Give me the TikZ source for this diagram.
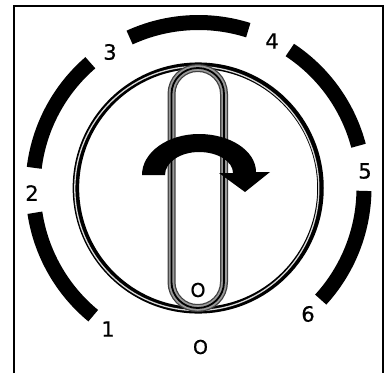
\documentclass[tikz,border=0pt]{standalone}
\usepackage{fontspec}
\setmainfont[FakeBold=0.7]{DejaVu Sans}
\tikzset{
  x=1pt,y=1pt,
  band/.style={line width=15pt},
  digit/.style={font=\fontsize{21}{21}\selectfont\bfseries,inner sep=0pt,text=black},
  letter/.style={font=\fontsize{19}{19}\selectfont\bfseries,inner sep=0pt,text=black}
}
\setmainfont[BoldFont={DejaVu Sans},BoldFeatures={FakeBold=0.7}]{DejaVu Sans}
\begin{document}
\begin{tikzpicture}[yscale=-1]
\useasboundingbox (0,0) rectangle (389,373);
\draw[line width=2pt] (14,373) -- (14,6) -- (383,6) -- (383,373);
\foreach \a/\b in {188.6/230.5,173/130.8,114.6/72.5,56.5/14.8,-1/-42.4}{
  \draw[band,yscale=-1,shift={(198.5,-188)}] (\a:165.5) arc[start angle=\a,end angle=\b,radius=165.5];
}
\draw[draw=black,line width=6.5pt] (198.2,188) circle[radius=122.3];
\draw[draw=black!15,line width=1.3pt] (196.8,188.5) circle[radius=122];
\draw[draw=black!75,line width=8pt,rounded corners=26pt] (171.5,68) rectangle (224,308);
\draw[draw=black!40,line width=5.5pt,rounded corners=26pt] (171.5,68) rectangle (224,308);
\draw[draw=black,line width=1.8pt,rounded corners=26pt] (171.5,68) rectangle (224,308);
\fill (142,175) arc[start angle=180,end angle=270,x radius=57,y radius=41]
  arc[start angle=270,end angle=360,x radius=57,y radius=38] -- (270,172) -- (245,192) -- (219,173) -- (233,173)
  arc[start angle=0,end angle=-90,x radius=34,y radius=21]
  arc[start angle=-90,end angle=-180,x radius=34,y radius=23] -- cycle;
\node[digit] (n1) at (108,329) {1};
\node[digit] (n2) at (32,193) {2};
\node[digit] (n3) at (110,52) {3};
\node[digit] (n4) at (272,41) {4};
\node[digit] (n5) at (365,171) {5};
\node[digit] (n6) at (308,314) {6};
\node[letter] (n0) at (200.5,347) {O};
\node[letter] (k0) at (198,290) {O};
\end{tikzpicture}
\end{document}
